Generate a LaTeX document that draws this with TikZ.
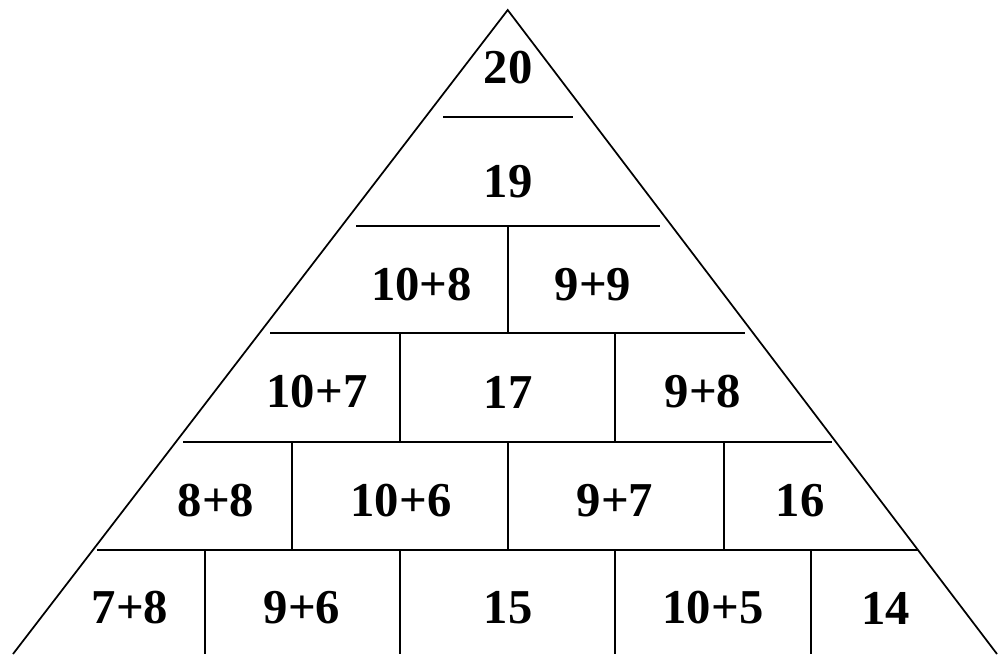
\documentclass[tikz,border=0pt]{standalone}
\usepackage{fontspec}
\setmainfont{Liberation Serif}
\tikzset{
  edge/.style={line width=1.3pt},
  cellnum/.style={font=\fontsize{36.5}{44}\selectfont\bfseries,inner sep=0pt,anchor=center}
}
\begin{document}
\begin{tikzpicture}[x=0.75pt,y=-0.75pt]
\useasboundingbox (0,0) rectangle (998,654);

% outline of the pyramid
\coordinate (apex) at (507.7,10);
\coordinate (bl) at (13,654);
\coordinate (br) at (997,654);
\draw[edge] (bl) -- (apex) -- (br);

% rows
\draw[edge] (443,117) -- (573,117);
\draw[edge] (356,226) -- (660,226);
\draw[edge] (270,333) -- (745,333);
\draw[edge] (183,442) -- (832,442);
\draw[edge] (97,550) -- (918,550);

% cell walls
\draw[edge] (507.7,226) -- (507.7,333);
\foreach \x in {400,615}
  \draw[edge] (\x,333) -- (\x,442);
\foreach \x in {292.3,507.7,724}
  \draw[edge] (\x,442) -- (\x,550);
\foreach \x in {205,400,615,810.7}
  \draw[edge] (\x,550) -- (\x,654);

% numbers
\node[cellnum] (n20) at (508,68) {20};
\node[cellnum] (n19) at (508,182) {19};
\node[cellnum] (a18) at (421.5,285) {10+8};
\node[cellnum] (b18) at (593,285) {9+9};
\node[cellnum] (a17) at (317,392) {10+7};
\node[cellnum] (n17) at (508,392) {17};
\node[cellnum] (b17) at (703,392) {9+8};
\node[cellnum] (a16) at (216,501) {8+8};
\node[cellnum] (b16) at (401,501) {10+6};
\node[cellnum] (c16) at (615,501) {9+7};
\node[cellnum] (n16) at (800,501) {16};
\node[cellnum] (a15) at (130,608) {7+8};
\node[cellnum] (b15) at (302,608) {9+6};
\node[cellnum] (n15) at (508,608) {15};
\node[cellnum] (c15) at (713,608) {10+5};
\node[cellnum] (n14) at (885.5,608) {14};
\end{tikzpicture}
\end{document}
